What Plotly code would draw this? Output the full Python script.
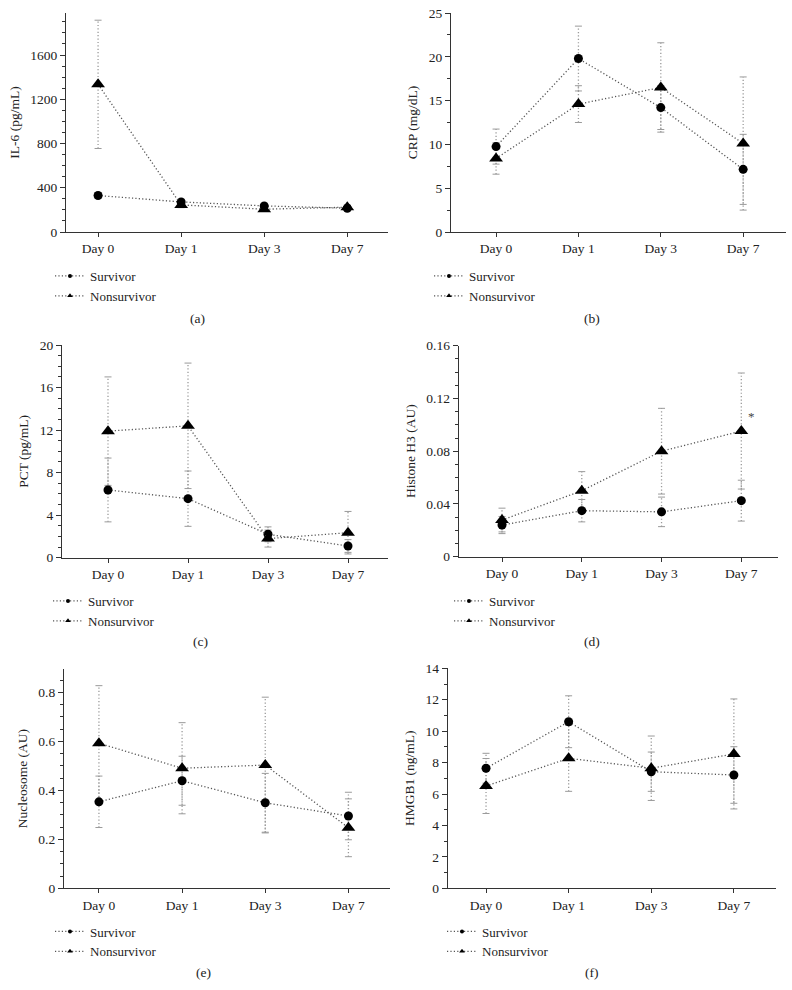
import plotly.graph_objects as go

days = ["Day 0", "Day 1", "Day 3", "Day 7"]

# (a) IL-6 (pg/mL)
il6_surv = [330, 272, 236, 215]
il6_surv_sd = [25, 20, 15, 15]
il6_non = [1335, 245, 206, 224]
il6_non_sd = [580, 25, 20, 20]

# (b) CRP (mg/dL)
crp_surv = [9.75, 19.8, 14.2, 7.15]
crp_surv_sd = [2.0, 3.7, 2.5, 4.0]
crp_non = [8.4, 14.6, 16.5, 10.1]
crp_non_sd = [1.8, 2.1, 5.1, 7.6]

# (c) PCT (pg/mL)
pct_surv = [6.37, 5.55, 2.2, 1.1]
pct_surv_sd = [3.0, 2.6, 0.7, 0.6]
pct_non = [11.9, 12.4, 1.8, 2.35]
pct_non_sd = [5.1, 5.9, 0.8, 2.0]

# (d) Histone H3 (AU)
h3_surv = [0.024, 0.0349, 0.034, 0.0425]
h3_surv_sd = [0.0065, 0.0085, 0.0112, 0.0155]
h3_non = [0.0278, 0.050, 0.080, 0.0953]
h3_non_sd = [0.009, 0.0145, 0.0325, 0.044]

# (e) Nucleosome (AU)
nuc_surv = [0.353, 0.439, 0.349, 0.295]
nuc_surv_sd = [0.105, 0.10, 0.12, 0.097]
nuc_non = [0.592, 0.49, 0.503, 0.247]
nuc_non_sd = [0.235, 0.186, 0.277, 0.118]

# (f) HMGB1 (ng/mL)
hmg_surv = [7.64, 10.6, 7.42, 7.21]
hmg_surv_sd = [0.95, 1.65, 1.25, 1.8]
hmg_non = [6.51, 8.27, 7.64, 8.55]
hmg_non_sd = [1.75, 2.1, 2.05, 3.5]

panel_labels = ["(a)", "(b)", "(c)", "(d)", "(e)", "(f)"]
y_titles = ["IL-6 (pg/mL)", "CRP (mg/dL)", "PCT (pg/mL)",
            "Histone H3 (AU)", "Nucleosome (AU)", "HMGB1 (ng/mL)"]
series_names = ["Survivor", "Nonsurvivor"]

# significance marker in (d)
sig_day = "Day 7"
sig_y = 0.106

W, H = 792, 990
FONT = '"Liberation Serif", "Times New Roman", Times, serif'

def px(x):
    return x / W

def py(y):
    return 1 - y / H

panels = [
    dict(data=(il6_surv, il6_surv_sd, il6_non, il6_non_sd), rect=(66, 388, 13, 232),
         xr=[-0.386, 3.49], yr=[0, 1980], dt=400, mdt=100),
    dict(data=(crp_surv, crp_surv_sd, crp_non, crp_non_sd), rect=(451, 786, 13, 232),
         xr=[-0.547, 3.52], yr=[0, 25], dt=5, mdt=2.5),
    dict(data=(pct_surv, pct_surv_sd, pct_non, pct_non_sd), rect=(62, 388, 345, 557.7),
         xr=[-0.575, 3.5], yr=[0, 20], dt=4, mdt=1),
    dict(data=(h3_surv, h3_surv_sd, h3_non, h3_non_sd), rect=(458.7, 778, 345.7, 556.7),
         xr=[-0.543, 3.46], yr=[0, 0.16], dt=0.04, mdt=0.01),
    dict(data=(nuc_surv, nuc_surv_sd, nuc_non, nuc_non_sd), rect=(64, 390, 669, 888.3),
         xr=[-0.42, 3.5], yr=[0, 0.895], dt=0.2, mdt=0.05),
    dict(data=(hmg_surv, hmg_surv_sd, hmg_non, hmg_non_sd), rect=(447.7, 776, 668.3, 888.3),
         xr=[-0.464, 3.51], yr=[0, 14], dt=2, mdt=1),
]

legend_pos = [(50, 261), (429, 261), (48, 586), (449, 586), (50, 916.5), (442, 916.5)]
label_pos = [(197, 318), (592, 318), (200, 641), (592, 641), (203, 972), (592, 972)]

fig = go.Figure()
layout = dict(width=W, height=H, margin=dict(l=0, r=0, t=0, b=0, autoexpand=False),
              paper_bgcolor="white", plot_bgcolor="white",
              font=dict(family=FONT, size=13, color="#222"),
              annotations=[])

LINE_C = "#555"
ERR_C = "#9a9a9a"
DOT = "1.2px,2.2px"

for i, p in enumerate(panels):
    n = "" if i == 0 else str(i + 1)
    xa, ya = "x" + n, "y" + n
    leg = "legend" + n
    surv, surv_sd, non, non_sd = p["data"]
    l, r, t, b = p["rect"]

    # error bars (dotted) drawn from the data
    for vals, sds in ((surv, surv_sd), (non, non_sd)):
        ex, ey, cx, cy = [], [], [], []
        for d, v, s in zip(days, vals, sds):
            ex += [d, d, None]
            ey += [v - s, v + s, None]
            cx += [d, d]
            cy += [v - s, v + s]
        fig.add_trace(go.Scatter(x=ex, y=ey, mode="lines", xaxis=xa, yaxis=ya,
                                 line=dict(color=ERR_C, width=1.3, dash=DOT),
                                 showlegend=False, hoverinfo="skip"))
        fig.add_trace(go.Scatter(x=cx, y=cy, mode="markers", xaxis=xa, yaxis=ya,
                                 marker=dict(symbol="line-ew", size=5,
                                             line=dict(color=ERR_C, width=1)),
                                 showlegend=False, hoverinfo="skip"))

    # series
    for name, vals, sym, sz in ((series_names[0], surv, "circle", 9),
                                (series_names[1], non, "triangle-up", 12)):
        fig.add_trace(go.Scatter(x=days, y=vals, mode="lines+markers", name=name,
                                 xaxis=xa, yaxis=ya,
                                 line=dict(color=LINE_C, width=1.3, dash=DOT),
                                 marker=dict(symbol=sym, size=sz, color="black"),
                                 showlegend=False))
        # legend entry (small marker as in the figure)
        fig.add_trace(go.Scatter(x=[None], y=[None], mode="lines+markers", name=name,
                                 xaxis=xa, yaxis=ya, legend=leg,
                                 line=dict(color=LINE_C, width=1.2, dash=DOT),
                                 marker=dict(symbol=sym, size=4 if sym == "circle" else 5,
                                             color="black"),
                                 showlegend=True))

    layout["xaxis" + n] = dict(domain=[px(l), px(r)], anchor=ya, type="category",
                               range=p["xr"], showline=True, linecolor="#333", linewidth=1.2,
                               ticks="outside", ticklen=4, tickcolor="#333",
                               showgrid=False, zeroline=False, automargin=False,
                               tickfont=dict(family=FONT, size=13.5, color="#222"))
    layout["yaxis" + n] = dict(domain=[py(b), py(t)], anchor=xa, range=p["yr"],
                               showline=True, linecolor="#333", linewidth=1.2,
                               ticks="outside", ticklen=5, tickcolor="#333",
                               dtick=p["dt"], tick0=0, automargin=False,
                               minor=dict(ticks="outside", dtick=p["mdt"], ticklen=3,
                                          tickcolor="#333", showgrid=False),
                               showgrid=False, zeroline=False,
                               tickfont=dict(family=FONT, size=13.5, color="#222"),
                               title=dict(text=y_titles[i], standoff=7,
                                          font=dict(family=FONT, size=13.5, color="#222")))
    lx, ly = legend_pos[i]
    layout[leg] = dict(x=px(lx), y=py(ly), xanchor="left", yanchor="top",
                       bgcolor="rgba(0,0,0,0)", tracegroupgap=0,
                       font=dict(family=FONT, size=13, color="#222"),
                       itemwidth=30)
    ax, ay = label_pos[i]
    layout["annotations"].append(dict(text=panel_labels[i], x=px(ax), y=py(ay),
                                      xref="paper", yref="paper", showarrow=False,
                                      xanchor="center", yanchor="middle",
                                      font=dict(family=FONT, size=13.5, color="#222")))

# asterisk in (d)
layout["annotations"].append(dict(text="*", x=sig_day, y=sig_y, xref="x4", yref="y4",
                                  showarrow=False, xshift=10, xanchor="center",
                                  yanchor="middle",
                                  font=dict(family=FONT, size=13, color="#444")))

fig.update_layout(**layout)
fig.write_html("out.html", config={"displayModeBar": False},
               post_script="document.body.style.margin='0';document.body.style.padding='0';")
